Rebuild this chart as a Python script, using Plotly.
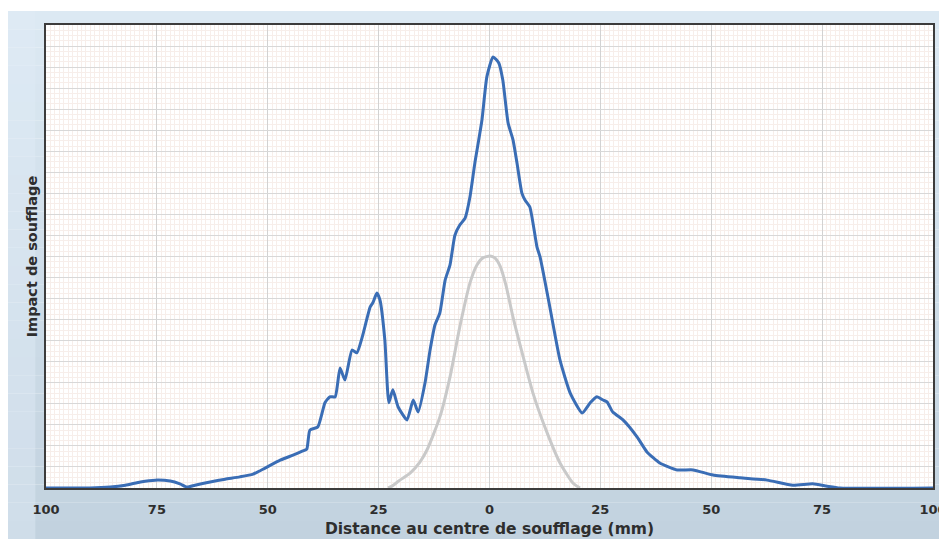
import plotly.graph_objects as go

# ---- data (distance in mm, impact in relative units 0-100) ----
blue_x = [-100, -90.1, -85.5, -82.1, -78.7, -75.4, -72.0, -69.8, -68.2, -66.4, -63.0, -59.6,
          -56.3, -53.3, -50.6, -47.2, -44.3, -42.1, -41.2, -40.5, -38.7, -37.1, -36.0, -34.8,
          -33.7, -32.6, -31.0, -29.9, -28.7, -26.9, -26.3, -25.4, -24.7, -23.6, -22.7, -21.8,
          -20.6, -18.6, -17.2, -16.1, -14.5, -13.4, -12.3, -11.2, -10.0, -8.9, -7.8, -6.7,
          -5.5, -4.4, -3.3, -1.7, -0.6, 0.8, 2.1, 3.0, 4.2, 5.3, 6.2, 7.3, 8.0, 9.1, 10.7,
          11.4, 13.6, 15.9, 18.2, 20.9, 22.7, 24.2, 25.6, 26.5, 27.8, 30.1, 33.3, 35.5, 38.4,
          42.3, 45.9, 50.4, 56.5, 62.6, 68.4, 72.9, 76.1, 79.0, 100]
blue_y = [0, 0, 0.2, 0.6, 1.3, 1.7, 1.5, 0.9, 0.2, 0.6, 1.3, 1.9,
          2.4, 3.0, 4.3, 6.0, 7.1, 8.0, 8.4, 12.5, 13.2, 18.4, 19.7, 19.7,
          25.9, 23.3, 29.8, 29.2, 32.6, 39.1, 40.0, 42.1, 40.6, 32.0, 18.4, 21.2,
          17.5, 14.7, 19.0, 16.4, 22.9, 29.8, 35.2, 37.8, 44.9, 48.2, 54.6, 56.8,
          58.3, 62.9, 70.2, 79.5, 88.8, 93.1, 91.8, 88.1, 78.8, 75.2, 70.2, 63.7, 62.2, 60.7, 52.1,
          49.9, 39.1, 27.6, 20.5, 16.2, 18.4, 19.7, 19.0, 18.6, 16.4, 14.7, 11.0, 7.8, 5.4,
          3.9, 3.9, 2.8, 2.2, 1.7, 0.6, 0.9, 0.4, 0, 0]

gray_x = [-22.9, -22.0, -20.2, -17.9, -15.7, -14.1, -11.2, -8.9, -6.7, -4.4, -2.8, -1.5, 0.1,
          1.2, 2.4, 3.7, 5.3, 7.6, 9.8, 13.0, 15.9, 18.8, 20.4]
gray_y = [0, 0.4, 1.7, 3.2, 5.6, 8.2, 15.3, 24.0, 34.8, 44.3, 48.2, 49.7, 50.1,
          49.7, 47.9, 43.8, 36.9, 28.3, 20.5, 11.9, 5.4, 1.1, 0]

tick_vals = [-100, -75, -50, -25, 0, 25, 50, 75, 100]
tick_text = ["100", "75", "50", "25", "0", "25", "50", "75", "100"]

x_title = "Distance au centre de soufflage (mm)"
y_title = "Impact de soufflage"

fig = go.Figure()
fig.add_trace(go.Scatter(x=gray_x, y=gray_y, mode="lines",
                         line=dict(color="#c9c9c9", width=3, shape="spline", smoothing=0.6),
                         hoverinfo="skip"))
fig.add_trace(go.Scatter(x=blue_x, y=blue_y, mode="lines",
                         line=dict(color="#3a6db5", width=3, shape="spline", smoothing=0.5),
                         hoverinfo="skip"))

# background gradient panel (bands)
shapes = []
x0p, x1p = -0.0451, 1.03
ytop, ybot = 1.0302, -0.15
n = 30
c_top = (220, 233, 243)
c_bot = (193, 209, 222)
for i in range(n):
    t0 = i / n
    t1 = (i + 1) / n
    tm = (t0 + t1) / 2
    c = tuple(int(round(c_top[k] + (c_bot[k] - c_top[k]) * tm)) for k in range(3))
    shapes.append(dict(type="rect", xref="paper", yref="paper", layer="below",
                       x0=x0p, x1=x1p,
                       y0=ytop + (ybot - ytop) * t1, y1=ytop + (ybot - ytop) * t0,
                       fillcolor="rgb(%d,%d,%d)" % c, line=dict(width=0)))
# left lighter strip
shapes.append(dict(type="rect", xref="paper", yref="paper", layer="below",
                   x0=x0p, x1=-0.012, y0=ybot, y1=ytop,
                   fillcolor="rgba(225,236,246,0.45)", line=dict(width=0)))
# plot area white
shapes.append(dict(type="rect", xref="paper", yref="paper", layer="below",
                   x0=0, x1=1, y0=0, y1=1, fillcolor="white", line=dict(width=0)))

FAM = "DejaVu Sans, Verdana, sans-serif"
font_tick = dict(family=FAM, size=13, color="#2e2e2e", weight="bold")

fig.update_layout(
    width=939, height=531, autosize=False,
    margin=dict(l=38, r=14, t=17, b=51, autoexpand=False),
    paper_bgcolor="white", plot_bgcolor="white",
    showlegend=False,
    shapes=shapes,
    xaxis=dict(
        range=[-100, 100], tickvals=tick_vals, ticktext=tick_text, automargin=False,
        tickfont=font_tick, ticks="outside", ticklen=8, tickcolor="rgba(0,0,0,0)",
        showgrid=True, gridcolor="#d2d2d2", gridwidth=1,
        minor=dict(dtick=1, showgrid=True, gridcolor="#f7eeea", gridwidth=1),
        showline=True, linecolor="#3c3c3c", linewidth=2, mirror=True,
        zeroline=False,
        title=dict(text=x_title, font=dict(family=FAM, size=15.5, color="#2e2e2e", weight="bold"),
                   standoff=8),
    ),
    yaxis=dict(
        range=[0, 100], tick0=0, dtick=100 / 22, showticklabels=False, ticks="", automargin=False,
        showgrid=True, gridcolor="#d8d8d8", gridwidth=1,
        minor=dict(dtick=100 / 88, showgrid=True, gridcolor="#f7eeea", gridwidth=1),
        showline=True, linecolor="#3c3c3c", linewidth=2, mirror=True,
        zeroline=False,
        title=dict(text=y_title, font=dict(family=FAM, size=14.5, color="#2e2e2e", weight="bold"),
                   standoff=3),
    ),
)

fig.write_html("out.html")
